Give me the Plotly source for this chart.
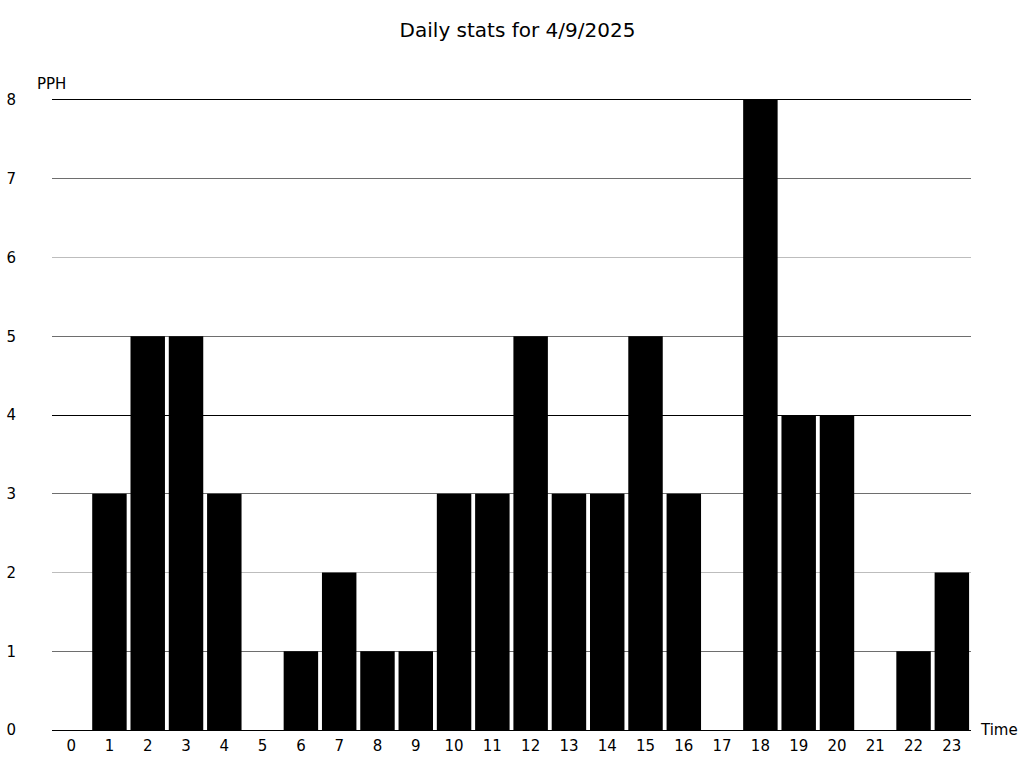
import plotly.graph_objects as go

hours = [str(h) for h in range(24)]
pph = [0, 3, 5, 5, 3, 0, 1, 2, 1, 1, 3, 3, 5, 3, 3, 5, 3, 0, 8, 4, 4, 0, 1, 2]
y_ticks = [0, 1, 2, 3, 4, 5, 6, 7, 8]
title_text = "Daily stats for 4/9/2025"
y_label = "PPH"
x_label = "Time"

FONT = "DejaVu Sans"

fig = go.Figure()
fig.add_trace(go.Bar(x=hours, y=pph, marker=dict(color="black", line=dict(width=0)),
                     hoverinfo="x+y", showlegend=False))
fig.add_trace(go.Scatter(x=[], y=[], yaxis="y2", showlegend=False))
fig.add_trace(go.Scatter(x=[], y=[], yaxis="y3", showlegend=False))

fig.update_layout(
    width=1024, height=768,
    margin=dict(l=52, r=53, t=100, b=38, autoexpand=False),
    paper_bgcolor="white", plot_bgcolor="white",
    font=dict(family=FONT, size=15, color="black"),
    bargap=0.1,
    title=dict(text=title_text, x=517.5 / 1024, xanchor="center", xref="container",
               y=1 - 30 / 768, yanchor="middle", yref="container",
               font=dict(family=FONT, size=20, color="black")),
    xaxis=dict(type="category", showgrid=False, showline=True, linecolor="black",
               linewidth=1, mirror=True, ticks="", tickfont=dict(size=15), zeroline=False,
               automargin=False, ticklabelstandoff=2),
    yaxis=dict(range=[0, 8], tickvals=y_ticks, gridcolor="#6e6e6e", gridwidth=1,
               zeroline=False, showline=False, ticks="", ticklabelstandoff=35,
               tickfont=dict(size=15), automargin=False),
    yaxis2=dict(range=[0, 8], overlaying="y", tickvals=[2, 6], gridcolor="#bdbdbd",
                showticklabels=False, zeroline=False, showline=False, ticks="",
                automargin=False),
    yaxis3=dict(range=[0, 8], overlaying="y", tickvals=[4, 8], gridcolor="black",
                showticklabels=False, zeroline=False, showline=False, ticks="",
                automargin=False),
    annotations=[
        dict(text=y_label, xref="paper", yref="paper", x=0, y=1, xshift=-1, yshift=16,
             xanchor="center", yanchor="middle", showarrow=False,
             font=dict(family=FONT, size=15, color="black")),
        dict(text=x_label, xref="paper", yref="paper", x=1, y=0, xshift=7, yshift=0,
             xanchor="left", yanchor="middle", showarrow=False,
             font=dict(family=FONT, size=15, color="black")),
    ],
)

fig.write_html("out.html", config={"displayModeBar": False},
               post_script="document.body.style.margin='0';document.body.style.overflow='hidden';")
